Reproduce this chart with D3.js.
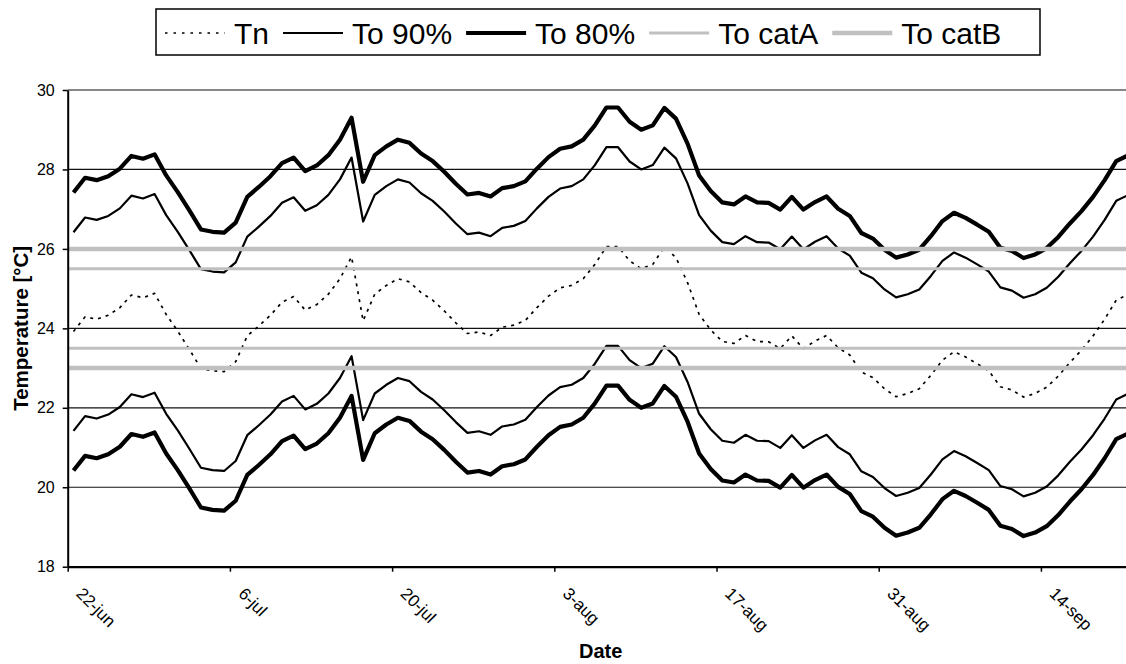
<!DOCTYPE html>
<html>
<head>
<meta charset="utf-8">
<script src="https://cdn.jsdelivr.net/npm/d3@7"></script>
<style>
  body { margin: 0; background: #fff; }
  svg { display: block; font-family: "Liberation Sans", Arial, sans-serif; }
</style>
</head>
<body>
<div id="chart"></div>
<script>
// daily values, 22-jun .. 21-sep
var tn = [
  23.92, 24.29, 24.23, 24.33, 24.52, 24.84, 24.77, 24.88, 24.35, 23.93,
  23.47, 22.99, 22.93, 22.91, 23.16, 23.81, 24.06, 24.33, 24.66, 24.80,
  24.46, 24.60, 24.86, 25.25, 25.80, 24.19, 24.86, 25.08, 25.25, 25.17,
  24.90, 24.71, 24.44, 24.14, 23.87, 23.91, 23.82, 24.03, 24.08, 24.20,
  24.52, 24.81, 25.02, 25.08, 25.25, 25.61, 26.06, 26.06, 25.70, 25.50,
  25.61, 26.05, 25.78, 25.15, 24.35, 23.96, 23.67, 23.62, 23.82, 23.67,
  23.66, 23.49, 23.81, 23.49, 23.68, 23.82, 23.51, 23.33, 22.90, 22.76,
  22.48, 22.28, 22.36, 22.48, 22.82, 23.20, 23.41, 23.28, 23.11, 22.93,
  22.53, 22.45, 22.27, 22.36, 22.52, 22.80, 23.14, 23.45, 23.81, 24.23,
  24.71, 24.85
];
var to90Upper = [
  26.42, 26.79, 26.73, 26.83, 27.02, 27.34, 27.27, 27.38, 26.85, 26.43,
  25.97, 25.49, 25.43, 25.41, 25.66, 26.31, 26.56, 26.83, 27.16, 27.30,
  26.96, 27.10, 27.36, 27.75, 28.30, 26.69, 27.36, 27.58, 27.75, 27.67,
  27.40, 27.21, 26.94, 26.64, 26.37, 26.41, 26.32, 26.53, 26.58, 26.70,
  27.02, 27.31, 27.52, 27.58, 27.75, 28.11, 28.56, 28.56, 28.20, 28.00,
  28.11, 28.55, 28.28, 27.65, 26.85, 26.46, 26.17, 26.12, 26.32, 26.17,
  26.16, 25.99, 26.31, 25.99, 26.18, 26.32, 26.01, 25.83, 25.40, 25.26,
  24.98, 24.78, 24.86, 24.98, 25.32, 25.70, 25.91, 25.78, 25.61, 25.43,
  25.03, 24.95, 24.77, 24.86, 25.02, 25.30, 25.64, 25.95, 26.31, 26.73,
  27.21, 27.35
];
var to90Lower = [
  21.42, 21.79, 21.73, 21.83, 22.02, 22.34, 22.27, 22.38, 21.85, 21.43,
  20.97, 20.49, 20.43, 20.41, 20.66, 21.31, 21.56, 21.83, 22.16, 22.30,
  21.96, 22.10, 22.36, 22.75, 23.30, 21.69, 22.36, 22.58, 22.75, 22.67,
  22.40, 22.21, 21.94, 21.64, 21.37, 21.41, 21.32, 21.53, 21.58, 21.70,
  22.02, 22.31, 22.52, 22.58, 22.75, 23.11, 23.56, 23.56, 23.20, 23.00,
  23.11, 23.55, 23.28, 22.65, 21.85, 21.46, 21.17, 21.12, 21.32, 21.17,
  21.16, 20.99, 21.31, 20.99, 21.18, 21.32, 21.01, 20.83, 20.40, 20.26,
  19.98, 19.78, 19.86, 19.98, 20.32, 20.70, 20.91, 20.78, 20.61, 20.43,
  20.03, 19.95, 19.77, 19.86, 20.02, 20.30, 20.64, 20.95, 21.31, 21.73,
  22.21, 22.35
];
var to80Upper = [
  27.42, 27.79, 27.73, 27.83, 28.02, 28.34, 28.27, 28.38, 27.85, 27.43,
  26.97, 26.49, 26.43, 26.41, 26.66, 27.31, 27.56, 27.83, 28.16, 28.30,
  27.96, 28.10, 28.36, 28.75, 29.30, 27.69, 28.36, 28.58, 28.75, 28.67,
  28.40, 28.21, 27.94, 27.64, 27.37, 27.41, 27.32, 27.53, 27.58, 27.70,
  28.02, 28.31, 28.52, 28.58, 28.75, 29.11, 29.56, 29.56, 29.20, 29.00,
  29.11, 29.55, 29.28, 28.65, 27.85, 27.46, 27.17, 27.12, 27.32, 27.17,
  27.16, 26.99, 27.31, 26.99, 27.18, 27.32, 27.01, 26.83, 26.40, 26.26,
  25.98, 25.78, 25.86, 25.98, 26.32, 26.70, 26.91, 26.78, 26.61, 26.43,
  26.03, 25.95, 25.77, 25.86, 26.02, 26.30, 26.64, 26.95, 27.31, 27.73,
  28.21, 28.35
];
var to80Lower = [
  20.42, 20.79, 20.73, 20.83, 21.02, 21.34, 21.27, 21.38, 20.85, 20.43,
  19.97, 19.49, 19.43, 19.41, 19.66, 20.31, 20.56, 20.83, 21.16, 21.30,
  20.96, 21.10, 21.36, 21.75, 22.30, 20.69, 21.36, 21.58, 21.75, 21.67,
  21.40, 21.21, 20.94, 20.64, 20.37, 20.41, 20.32, 20.53, 20.58, 20.70,
  21.02, 21.31, 21.52, 21.58, 21.75, 22.11, 22.56, 22.56, 22.20, 22.00,
  22.11, 22.55, 22.28, 21.65, 20.85, 20.46, 20.17, 20.12, 20.32, 20.17,
  20.16, 19.99, 20.31, 19.99, 20.18, 20.32, 20.01, 19.83, 19.40, 19.26,
  18.98, 18.78, 18.86, 18.98, 19.32, 19.70, 19.91, 19.78, 19.61, 19.43,
  19.03, 18.95, 18.77, 18.86, 19.02, 19.30, 19.64, 19.95, 20.31, 20.73,
  21.21, 21.35
];
var catA = [25.5, 23.5];
var catB = [26.0, 23.0];

var yTicks = [18, 20, 22, 24, 26, 28, 30];
var xTickLabels = ["22-jun", "6-jul", "20-jul", "3-aug", "17-aug", "31-aug", "14-sep"];
var legendNames = ["Tn", "To 90%", "To 80%", "To catA", "To catB"];

// categories: one per day
var fmt = d3.timeFormat("%-d-%b");
var dayLabels = d3.timeDay.range(new Date(2008, 5, 22), new Date(2008, 8, 22))
    .map(function(d) { return fmt(d).toLowerCase(); });
var tickIdx = xTickLabels.map(function(l) { return dayLabels.indexOf(l); });

var svgWidth = 1126, svgHeight = 664;
var plotLeft = 67.7, plotTop = 90, plotBottom = 566.7;
var dayW = 11.586;

var svg = d3.select("#chart").append("svg")
    .attr("width", svgWidth)
    .attr("height", svgHeight);

var x = d3.scaleLinear().domain([0, dayLabels.length])
    .range([plotLeft, plotLeft + dayLabels.length * dayW]);
var y = d3.scaleLinear().domain([18, 30]).range([plotBottom, plotTop]);
var plotRight = x(dayLabels.length);

// gridlines
svg.append("g").selectAll("line")
    .data(yTicks.slice(1))
    .enter().append("line")
    .attr("x1", plotLeft).attr("x2", plotRight)
    .attr("y1", function(d) { return y(d); })
    .attr("y2", function(d) { return y(d); })
    .style("stroke", "#111")
    .style("stroke-width", 1.2);

var line = d3.line()
    .x(function(d, i) { return x(i + 0.5); })
    .y(function(d) { return y(d); });

function drawSeries(data, width, dash) {
    svg.append("path")
        .datum(data)
        .attr("d", line)
        .style("fill", "none")
        .style("stroke", "#000")
        .style("stroke-width", width)
        .style("stroke-linejoin", "round")
        .style("stroke-dasharray", dash || null);
}

drawSeries(tn, 1.7, "3,5");
drawSeries(to90Upper, 2.2);
drawSeries(to90Lower, 2.2);
drawSeries(to80Upper, 4.2);
drawSeries(to80Lower, 4.2);

// comfort category limits
function drawLimit(vals, width) {
    svg.append("g").selectAll("line")
        .data(vals)
        .enter().append("line")
        .attr("x1", plotLeft).attr("x2", plotRight)
        .attr("y1", function(d) { return y(d); })
        .attr("y2", function(d) { return y(d); })
        .style("stroke", "#c0c0c0")
        .style("stroke-width", width);
}
drawLimit(catA, 3);
drawLimit(catB, 4.5);

// axes
var yAxis = svg.append("g")
    .attr("transform", "translate(" + plotLeft + ",0)")
    .call(d3.axisLeft(y).tickValues(yTicks).tickSize(5).tickSizeOuter(0).tickPadding(8));
yAxis.select(".domain").style("stroke-width", 2);
yAxis.selectAll(".tick line").style("stroke-width", 1.5);
yAxis.selectAll("text").style("font-size", "16px").style("fill", "#000");

var xAxis = svg.append("g")
    .attr("transform", "translate(0," + plotBottom + ")")
    .call(d3.axisBottom(x).tickValues(tickIdx).tickSize(5).tickSizeOuter(0)
        .tickFormat(function(d, i) { return xTickLabels[i]; }));
xAxis.select(".domain").style("stroke-width", 2.2);
xAxis.selectAll(".tick line").style("stroke-width", 1.5);
xAxis.selectAll("text")
    .style("font-size", "17px")
    .style("fill", "#000")
    .style("text-anchor", "start")
    .attr("y", 0)
    .attr("dy", 0)
    .attr("transform", "translate(7,28) rotate(45)");

// axis titles
svg.append("text")
    .attr("x", (plotLeft + plotRight) / 2)
    .attr("y", 658)
    .attr("text-anchor", "middle")
    .style("font-size", "20px")
    .style("font-weight", "bold")
    .text("Date");

svg.append("text")
    .attr("transform", "translate(28," + ((plotTop + plotBottom) / 2) + ") rotate(-90)")
    .attr("text-anchor", "middle")
    .style("font-size", "20.5px")
    .style("font-weight", "bold")
    .text("Temperature [°C]");

// legend
var legend = svg.append("g");
legend.append("rect")
    .attr("x", 156).attr("y", 9)
    .attr("width", 884).attr("height", 46)
    .style("fill", "#fff")
    .style("stroke", "#000")
    .style("stroke-width", 1.5);

var legendStyles = [
    { color: "#000", width: 1.7, dash: "2.5,6" },
    { color: "#000", width: 2.2 },
    { color: "#000", width: 4.2 },
    { color: "#c0c0c0", width: 3 },
    { color: "#c0c0c0", width: 4.5 }
];
var lx = 165;
legendNames.forEach(function(name, i) {
    var s = legendStyles[i];
    legend.append("line")
        .attr("x1", lx).attr("x2", lx + 60)
        .attr("y1", 33).attr("y2", 33)
        .style("stroke", s.color)
        .style("stroke-width", s.width)
        .style("stroke-dasharray", s.dash || null);
    var t = legend.append("text")
        .attr("x", lx + 69)
        .attr("y", 44)
        .style("font-size", "30px")
        .text(name);
    lx = lx + 69 + t.node().getComputedTextLength() + 14;
});
</script>
</body>
</html>
